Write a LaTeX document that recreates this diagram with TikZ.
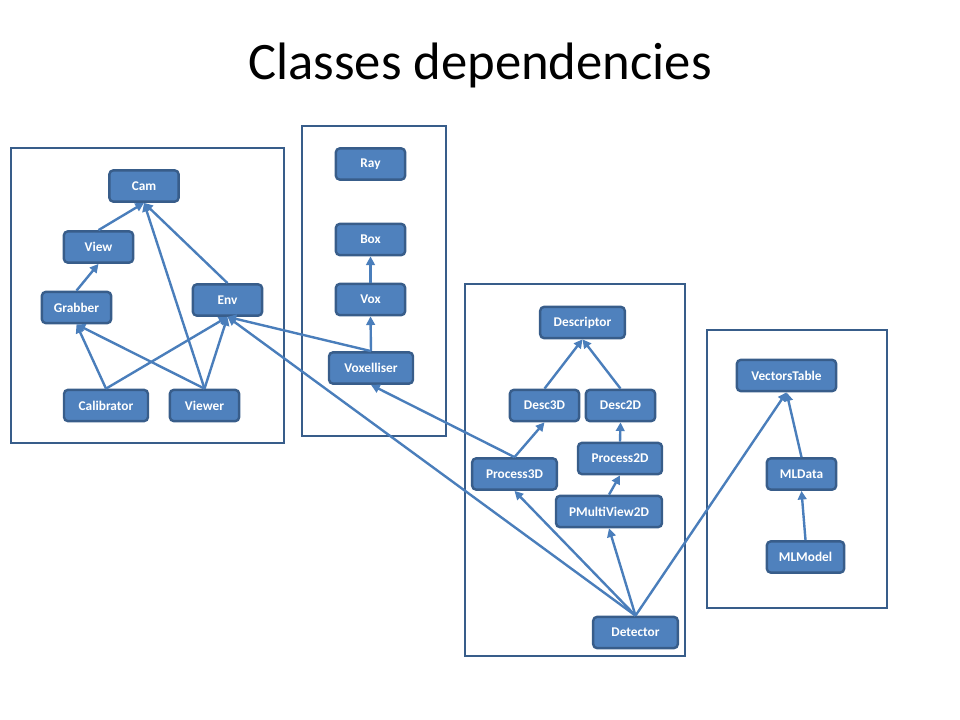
\documentclass[tikz,border=0pt]{standalone}
\usepackage{fontspec}
\setmainfont{Carlito}
\usepackage{tikz}
\usetikzlibrary{arrows.meta}

\definecolor{classfill}{HTML}{4F81BD}
\definecolor{classline}{HTML}{385D8A}
\definecolor{deplink}{HTML}{4A7EBB}

\begin{document}
\begin{tikzpicture}[x=0.75pt, y=-0.75pt]
    \useasboundingbox (0,0) rectangle (960,720);
    \node (title) [anchor=base, font=\fontsize{39.5}{47}\selectfont] at (480,80) {Classes dependencies};

    % packages
    \begin{scope}[draw=classline, line width=1.9pt]
        \draw (11,148) rectangle (284,443);
        \draw (302,126) rectangle (446,436);
        \draw (465,284) rectangle (685,656);
        \draw (707,330) rectangle (887,608);
    \end{scope}

    \begin{scope}[every node/.style={draw=classline, fill=classfill, text=white, rounded corners=3pt,
            line width=1.8pt, minimum width=52pt, minimum height=23.5pt,
            font=\bfseries\fontsize{10}{12}\selectfont}]
        \node (Cam) at (144,186) {Cam};
        \node (View) at (98.5,247) {View};
        \node (Grabber) at (76.5,307.5) {Grabber};
        \node (Env) at (227.5,300) {Env};
        \node (Calibrator) [minimum width=63pt] at (106,405.5) {Calibrator};
        \node (Viewer) at (204.5,405.5) {Viewer};

        \node (Ray) at (370.5,164) {Ray};
        \node (Box) at (370.5,239.5) {Box};
        \node (Vox) at (370.5,299.5) {Vox};
        \node (Voxelliser) [minimum width=63pt] at (371,368) {Voxelliser};

        \node (Descriptor) [minimum width=63.5pt] at (582.5,322.5) {Descriptor};
        \node (Desc3D) at (544.5,405.5) {Desc3D};
        \node (Desc2D) at (620.5,405.5) {Desc2D};
        \node (Process2D) [minimum width=63pt] at (620,458.5) {Process2D};
        \node (Process3D) [minimum width=63.5pt] at (514.5,474) {Process3D};
        \node (PMultiView2D) [minimum width=79.5pt, inner xsep=2pt] at (609,511.5) {PMultiView2D};
        \node (Detector) [minimum width=63.5pt] at (635.5,632.5) {Detector};

        \node (VectorsTable) [minimum width=74.5pt, inner xsep=2pt] at (786.5,375.5) {VectorsTable};
        \node (MLData) at (801.5,474) {MLData};
        \node (MLModel) [minimum width=58pt] at (805.5,557) {MLModel};
    \end{scope}

    \begin{scope}[every edge/.style={draw=deplink, line width=1.8pt, -{Triangle[length=6.5pt,width=6.5pt]}}]
        \path (View.north) edge (Cam.south);
        \path (Viewer.north) edge (Cam.south);
        \path (Env.north) edge (Cam.south);
        \path (Grabber.north) edge (View.south);
        \path (Calibrator.north) edge (Grabber.south);
        \path (Viewer.north) edge (Grabber.south);
        \path (Calibrator.north) edge (Env.south);
        \path (Viewer.north) edge (Env.south);
        \path (Voxelliser.north) edge (Env.south);
        \path (Vox.north) edge (Box.south);
        \path (Voxelliser.north) edge (Vox.south);
        \path (Process3D.north) edge (Voxelliser.south);
        \path (Process3D.north) edge (Desc3D.south);
        \path (Desc3D.north) edge (Descriptor.south);
        \path (Desc2D.north) edge (Descriptor.south);
        \path (Process2D.north) edge (Desc2D.south);
        \path (PMultiView2D.north) edge (Process2D.south);
        \path (Detector.north) edge (PMultiView2D.south);
        \path (Detector.north) edge (Process3D.south);
        \path (Detector.north) edge (Env.south);
        \path (Detector.north) edge (VectorsTable.south);
        \path (MLData.north) edge (VectorsTable.south);
        \path (MLModel.north) edge (MLData.south);
    \end{scope}
\end{tikzpicture}
\end{document}
